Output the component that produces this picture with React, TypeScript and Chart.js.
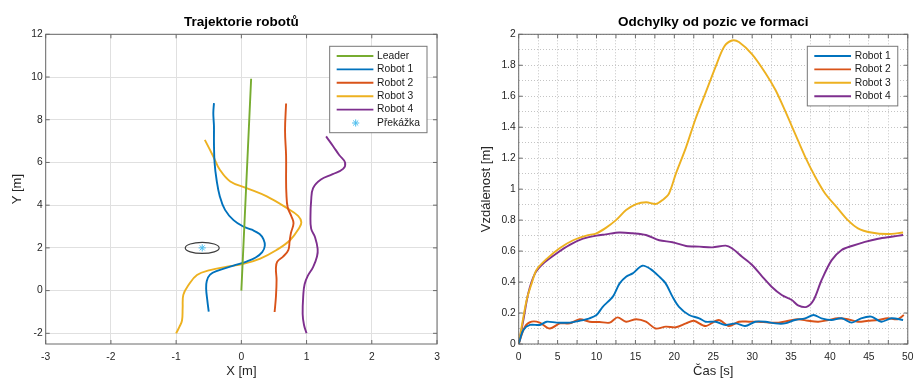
import React, { useEffect, useRef } from "react";
import { Chart, registerables } from "chart.js";

Chart.register(...registerables);

const FONT = "'Liberation Sans', Arial, Helvetica, sans-serif";
Chart.defaults.font.family = FONT;

// ---------- Left chart: trajectories ----------
const TRAJ_X_TICKS = [-3, -2, -1, 0, 1, 2, 3];
const TRAJ_Y_TICKS = [-2, 0, 2, 4, 6, 8, 10, 12];

const LEADER_X = [0, 0.05, 0.1, 0.15];
const LEADER_Y = [0, 3.3, 6.6, 9.92];

const R1_X = [-0.5, -0.52, -0.54, -0.53, -0.48, -0.36, -0.12, 0.08, 0.22, 0.32, 0.36, 0.34, 0.28, 0.16, 0.03, -0.12, -0.25, -0.33, -0.38, -0.41, -0.42, -0.42, -0.43, -0.42];
const R1_Y = [-0.98, -0.5, 0.1, 0.45, 0.75, 0.94, 1.17, 1.36, 1.55, 1.8, 2.1, 2.4, 2.65, 2.85, 3.0, 3.3, 3.78, 4.41, 5.19, 5.97, 6.91, 7.69, 8.3, 8.78];

const R2_X = [0.51, 0.53, 0.54, 0.53, 0.55, 0.64, 0.72, 0.74, 0.76, 0.8, 0.77, 0.71, 0.69, 0.686, 0.686, 0.67, 0.686];
const R2_Y = [-1.0, -0.3, 0.5, 1.04, 1.35, 1.59, 1.9, 2.3, 2.69, 3.15, 3.46, 3.9, 4.6, 5.2, 6.3, 7.5, 8.76];

const R3_X = [-1.0, -0.95, -0.91, -0.9, -0.89, -0.81, -0.68, -0.48, -0.22, 0.03, 0.29, 0.54, 0.75, 0.88, 0.92, 0.87, 0.7, 0.39, 0.08, -0.17, -0.33, -0.43, -0.56];
const R3_Y = [-2.0, -1.7, -1.4, -0.8, -0.2, 0.26, 0.73, 0.96, 1.12, 1.25, 1.5, 1.9, 2.37, 2.9, 3.2, 3.5, 3.86, 4.41, 4.8, 5.11, 5.66, 6.28, 7.06];

const R4_X = [1.0, 0.96, 0.94, 0.95, 0.97, 1.02, 1.1, 1.16, 1.17, 1.13, 1.07, 1.06, 1.07, 1.1, 1.22, 1.4, 1.56, 1.59, 1.5, 1.41, 1.3];
const R4_Y = [-2.0, -1.6, -1.1, -0.2, 0.3, 0.7, 1.1, 1.6, 1.95, 2.5, 2.9, 3.5, 4.2, 4.8, 5.2, 5.45, 5.7, 6.0, 6.35, 6.75, 7.22];

const OBSTACLE_X = [-0.6];
const OBSTACLE_Y = [2.0];
const OBSTACLE_R = [0.26];

// ---------- Right chart: deviations ----------
const DEV_X_MAJOR = [0, 5, 10, 15, 20, 25, 30, 35, 40, 45, 50];
const DEV_X_MINOR = [2.5, 7.5, 12.5, 17.5, 22.5, 27.5, 32.5, 37.5, 42.5, 47.5];
const DEV_Y_MAJOR = [0, 0.2, 0.4, 0.6, 0.8, 1, 1.2, 1.4, 1.6, 1.8, 2];
const DEV_Y_LABELS = ["0", "0.2", "0.4", "0.6", "0.8", "1", "1.2", "1.4", "1.6", "1.8", "2"];
const DEV_Y_MINOR = [0.1, 0.3, 0.5, 0.7, 0.9, 1.1, 1.3, 1.5, 1.7, 1.9];

const D1_T = [0, 0.6, 1.45, 2.7, 3.6, 4.86, 6.56, 7.84, 9.1, 10, 10.8, 12.1, 12.95, 13.8, 14.65, 15.9, 17, 18.06, 18.9, 19.76, 20.6, 21.9, 23.2, 24, 25.3, 26.6, 27.9, 29.1, 30.4, 31.7, 33, 34.2, 35.5, 36.8, 37.9, 38.9, 40.2, 41.5, 42.8, 44, 45.3, 46.6, 47.9, 49.4];
const D1_V = [0, 0.09, 0.123, 0.123, 0.144, 0.138, 0.138, 0.15, 0.166, 0.187, 0.24, 0.306, 0.39, 0.435, 0.456, 0.506, 0.482, 0.435, 0.39, 0.306, 0.24, 0.187, 0.166, 0.144, 0.144, 0.123, 0.133, 0.116, 0.144, 0.144, 0.133, 0.133, 0.155, 0.166, 0.187, 0.166, 0.155, 0.166, 0.138, 0.166, 0.177, 0.144, 0.166, 0.155];

const D2_T = [0, 0.8, 1.66, 2.7, 4, 5.3, 6.56, 7.84, 9.1, 10.4, 11.7, 12.7, 13.8, 15.1, 16.35, 17.6, 18.9, 20.2, 21.5, 22.5, 24, 25.7, 27, 28.3, 29.6, 30.8, 32.1, 33.4, 34.7, 35.9, 37.2, 38.5, 39.8, 41, 42.3, 43.6, 44.9, 46.2, 47.4, 48.7, 49.5];
const D2_V = [0, 0.112, 0.144, 0.138, 0.1, 0.133, 0.133, 0.16, 0.144, 0.142, 0.138, 0.172, 0.144, 0.16, 0.144, 0.1, 0.112, 0.108, 0.133, 0.15, 0.116, 0.155, 0.116, 0.144, 0.144, 0.144, 0.138, 0.138, 0.15, 0.16, 0.15, 0.144, 0.155, 0.166, 0.16, 0.144, 0.15, 0.155, 0.166, 0.16, 0.187];

const D3_T = [0, 1.0, 1.66, 2.3, 3.6, 5.3, 7.0, 8.7, 10, 11.2, 12.5, 13.8, 15.1, 16.4, 17.6, 18.5, 19.3, 20.2, 21.5, 22.7, 24, 25.3, 26.4, 27.4, 28.3, 30, 31.7, 33, 34.2, 35.5, 36.8, 38.1, 39.4, 41, 42.3, 43.6, 45.3, 47.4, 49.4];
const D3_V = [0, 0.28, 0.39, 0.48, 0.55, 0.62, 0.67, 0.7, 0.715, 0.75, 0.8, 0.865, 0.904, 0.915, 0.904, 0.93, 0.97, 1.1, 1.27, 1.45, 1.62, 1.79, 1.92, 1.96, 1.95, 1.87, 1.75, 1.64, 1.51, 1.36, 1.21, 1.08, 0.97, 0.876, 0.8, 0.747, 0.72, 0.71, 0.72];

const D4_T = [0, 0.6, 1.24, 2.1, 3.15, 4.86, 6.56, 8.26, 10, 11.2, 12.9, 14.65, 16.35, 18.06, 19.76, 21.5, 23.2, 24.9, 26.6, 27.4, 28.7, 30, 31.3, 32.5, 33.8, 35.1, 35.9, 37, 37.9, 38.9, 40.2, 41.5, 42.8, 44.5, 46.2, 47.9, 49.4];
const D4_V = [0, 0.155, 0.33, 0.456, 0.52, 0.585, 0.64, 0.68, 0.7, 0.708, 0.72, 0.715, 0.704, 0.67, 0.657, 0.633, 0.629, 0.624, 0.635, 0.618, 0.564, 0.51, 0.435, 0.37, 0.316, 0.284, 0.25, 0.24, 0.284, 0.41, 0.54, 0.607, 0.633, 0.66, 0.68, 0.693, 0.704];

const C_BLUE = "#0072BD";
const C_ORANGE = "#D95319";
const C_YELLOW = "#EDB120";
const C_PURPLE = "#7E2F8E";
const C_GREEN = "#77AC30";
const C_CYAN = "#4DBEEE";

const TEXT = "#262626";
const BOX = "#6a6a6a";
const LINE_W = 1.9;

function pts(xs: number[], ys: number[]) {
  return xs.map((x, i) => ({ x, y: ys[i] }));
}

function drawStar(ctx: CanvasRenderingContext2D, cx: number, cy: number, r: number, color: string) {
  ctx.save();
  ctx.strokeStyle = color;
  ctx.lineWidth = 1;
  ctx.beginPath();
  ctx.moveTo(cx - r, cy); ctx.lineTo(cx + r, cy);
  ctx.moveTo(cx, cy - r); ctx.lineTo(cx, cy + r);
  const d = r * 0.7071;
  ctx.moveTo(cx - d, cy - d); ctx.lineTo(cx + d, cy + d);
  ctx.moveTo(cx - d, cy + d); ctx.lineTo(cx + d, cy - d);
  ctx.stroke();
  ctx.restore();
}

type LegendItem = { label: string; color: string; kind: "line" | "star" };

function makeMatlabPlugin(cfg: {
  xTicks: number[];
  yTicks: number[];
  legend: LegendItem[];
  obstacles?: { x: number; y: number; r: number }[];
}) {
  return {
    id: "matlab",
    beforeDatasetsDraw(chart: any) {
      if (!cfg.obstacles) return;
      const { ctx, scales } = chart;
      const x = scales.x, y = scales.y;
      ctx.save();
      cfg.obstacles.forEach((o) => {
        const cx = x.getPixelForValue(o.x);
        const cy = y.getPixelForValue(o.y);
        const rx = Math.abs(x.getPixelForValue(o.x + o.r) - cx);
        const ry = Math.abs(y.getPixelForValue(o.y + o.r) - cy);
        ctx.beginPath();
        ctx.ellipse(cx, cy, rx, ry, 0, 0, Math.PI * 2);
        ctx.strokeStyle = "#3c3c3c";
        ctx.lineWidth = 1.2;
        ctx.stroke();
      });
      ctx.restore();
    },
    afterDatasetsDraw(chart: any) {
      const { ctx, chartArea: a, scales } = chart;
      const x = scales.x, y = scales.y;
      ctx.save();
      // axes box
      ctx.strokeStyle = BOX;
      ctx.lineWidth = 1;
      ctx.strokeRect(a.left, a.top, a.right - a.left, a.bottom - a.top);
      const len = 4;
      ctx.beginPath();
      cfg.xTicks.forEach((v) => {
        const p = x.getPixelForValue(v);
        ctx.moveTo(p, a.bottom); ctx.lineTo(p, a.bottom - len);
        ctx.moveTo(p, a.top); ctx.lineTo(p, a.top + len);
      });
      cfg.yTicks.forEach((v) => {
        const p = y.getPixelForValue(v);
        ctx.moveTo(a.left, p); ctx.lineTo(a.left + len, p);
        ctx.moveTo(a.right, p); ctx.lineTo(a.right - len, p);
      });
      ctx.stroke();

      // legend
      const fs = 10.3;
      ctx.font = `${fs}px ${FONT}`;
      const items = cfg.legend;
      const textW = Math.max(...items.map((it) => ctx.measureText(it.label).width));
      const textOff = 47.4;
      const w = textOff + textW + 7;
      const padTop = 9.7;
      const rowH = 13.4;
      const h = padTop * 2 + (items.length - 1) * rowH;
      const bx = a.right - 10 - w;
      const by = a.top + 12;
      ctx.fillStyle = "#ffffff";
      ctx.fillRect(bx, by, w, h);
      ctx.strokeStyle = "#777777";
      ctx.lineWidth = 1;
      ctx.strokeRect(bx, by, w, h);
      items.forEach((it, i) => {
        const cy = by + padTop + i * rowH;
        if (it.kind === "line") {
          ctx.strokeStyle = it.color;
          ctx.lineWidth = LINE_W;
          ctx.beginPath();
          ctx.moveTo(bx + 7, cy);
          ctx.lineTo(bx + 43.7, cy);
          ctx.stroke();
        } else {
          drawStar(ctx, bx + 26, cy, 3.6, it.color);
        }
        ctx.fillStyle = "#1a1a1a";
        ctx.textAlign = "left";
        ctx.textBaseline = "middle";
        ctx.fillText(it.label, bx + textOff, cy);
      });
      ctx.restore();
    },
  };
}

function setTicks(values: number[]) {
  return (scale: any) => {
    scale.ticks = values.map((v) => ({ value: v }));
  };
}

function lineDs(label: string, data: any[], color: string, tension: number) {
  return {
    label,
    data,
    showLine: true,
    borderColor: color,
    backgroundColor: color,
    borderWidth: LINE_W,
    pointRadius: 0,
    tension,
    fill: false,
  };
}

function trajConfig(): any {
  const obstacles = OBSTACLE_X.map((ox, i) => ({ x: ox, y: OBSTACLE_Y[i], r: OBSTACLE_R[i] }));
  return {
    type: "scatter",
    data: {
      datasets: [
        lineDs("Leader", pts(LEADER_X, LEADER_Y), C_GREEN, 0),
        lineDs("Robot 1", pts(R1_X, R1_Y), C_BLUE, 0.4),
        lineDs("Robot 2", pts(R2_X, R2_Y), C_ORANGE, 0.4),
        lineDs("Robot 3", pts(R3_X, R3_Y), C_YELLOW, 0.4),
        lineDs("Robot 4", pts(R4_X, R4_Y), C_PURPLE, 0.4),
        {
          label: "Překážka",
          data: pts(OBSTACLE_X, OBSTACLE_Y),
          showLine: false,
          pointStyle: "star",
          pointRadius: 3.6,
          borderWidth: 1,
          borderColor: C_CYAN,
          backgroundColor: C_CYAN,
        },
      ],
    },
    options: {
      responsive: false,
      maintainAspectRatio: false,
      animation: false,
      devicePixelRatio: 1,
      layout: { padding: { left: 0, right: 23, top: 0, bottom: 0 } },
      plugins: {
        legend: { display: false },
        tooltip: { enabled: false },
        title: {
          display: true,
          text: "Trajektorie robotů",
          fullSize: false,
          color: "#000000",
          font: { family: FONT, size: 13.5, weight: "bold", lineHeight: 1.2 },
          padding: { top: 13.7, bottom: 4.4 },
        },
      },
      scales: {
        x: {
          type: "linear",
          min: -3,
          max: 3,
          afterBuildTicks: setTicks(TRAJ_X_TICKS),
          afterFit: (s: any) => { s.height = 34; },
          grid: { color: "#e0e0e0", lineWidth: 1, drawTicks: false },
          border: { display: false },
          ticks: { autoSkip: false, maxRotation: 0, color: TEXT, padding: 6.5, font: { size: 10.3 }, callback: (v: any) => String(v) },
          title: { display: true, text: "X [m]", color: TEXT, font: { size: 13, lineHeight: 1 }, padding: { top: 0, bottom: 0 } },
        },
        y: {
          type: "linear",
          min: -2.5,
          max: 12,
          afterBuildTicks: setTicks(TRAJ_Y_TICKS),
          afterFit: (s: any) => { s.width = 45.7; },
          grid: { color: "#e0e0e0", lineWidth: 1, drawTicks: false },
          border: { display: false },
          ticks: { autoSkip: false, color: TEXT, padding: 3, font: { size: 10.3 }, callback: (v: any) => String(v) },
          title: { display: true, text: "Y [m]", color: TEXT, font: { size: 13, lineHeight: 1 }, padding: { top: 11, bottom: 0 } },
        },
      },
    },
    plugins: [
      makeMatlabPlugin({
        xTicks: TRAJ_X_TICKS,
        yTicks: TRAJ_Y_TICKS,
        obstacles,
        legend: [
          { label: "Leader", color: C_GREEN, kind: "line" },
          { label: "Robot 1", color: C_BLUE, kind: "line" },
          { label: "Robot 2", color: C_ORANGE, kind: "line" },
          { label: "Robot 3", color: C_YELLOW, kind: "line" },
          { label: "Robot 4", color: C_PURPLE, kind: "line" },
          { label: "Překážka", color: C_CYAN, kind: "star" },
        ],
      }),
    ],
  };
}

function devConfig(): any {
  const xAll = [...DEV_X_MAJOR, ...DEV_X_MINOR].sort((a, b) => a - b);
  const yAll = [...DEV_Y_MAJOR, ...DEV_Y_MINOR].sort((a, b) => a - b);
  const xLabel = (v: number) => {
    const i = DEV_X_MAJOR.findIndex((m) => Math.abs(m - v) < 1e-6);
    return i >= 0 ? String(DEV_X_MAJOR[i]) : "";
  };
  const yLabel = (v: number) => {
    const i = DEV_Y_MAJOR.findIndex((m) => Math.abs(m - v) < 1e-6);
    return i >= 0 ? DEV_Y_LABELS[i] : "";
  };
  return {
    type: "scatter",
    data: {
      datasets: [
        lineDs("Robot 1", pts(D1_T, D1_V), C_BLUE, 0.3),
        lineDs("Robot 2", pts(D2_T, D2_V), C_ORANGE, 0.3),
        lineDs("Robot 3", pts(D3_T, D3_V), C_YELLOW, 0.3),
        lineDs("Robot 4", pts(D4_T, D4_V), C_PURPLE, 0.3),
      ],
    },
    options: {
      responsive: false,
      maintainAspectRatio: false,
      animation: false,
      devicePixelRatio: 1,
      layout: { padding: { left: 0, right: 10, top: 0, bottom: 0 } },
      plugins: {
        legend: { display: false },
        tooltip: { enabled: false },
        title: {
          display: true,
          text: "Odchylky od pozic ve formaci",
          fullSize: false,
          color: "#000000",
          font: { family: FONT, size: 13.5, weight: "bold", lineHeight: 1.2 },
          padding: { top: 13.7, bottom: 4.4 },
        },
      },
      scales: {
        x: {
          type: "linear",
          min: 0,
          max: 50,
          afterBuildTicks: setTicks(xAll),
          afterFit: (s: any) => { s.height = 34; },
          grid: { color: "#c4c4c4", lineWidth: 1, drawTicks: false },
          border: { display: false, dash: [1, 2] },
          ticks: { autoSkip: false, maxRotation: 0, color: TEXT, padding: 6.5, font: { size: 10.3 }, callback: (v: any) => xLabel(v) },
          title: { display: true, text: "Čas [s]", color: TEXT, font: { size: 13, lineHeight: 1 }, padding: { top: 0, bottom: 0 } },
        },
        y: {
          type: "linear",
          min: 0,
          max: 2,
          afterBuildTicks: setTicks(yAll),
          afterFit: (s: any) => { s.width = 58.7; },
          grid: { color: "#c4c4c4", lineWidth: 1, drawTicks: false },
          border: { display: false, dash: [1, 2] },
          ticks: { autoSkip: false, color: TEXT, padding: 3, font: { size: 10.3 }, callback: (v: any) => yLabel(v) },
          title: { display: true, text: "Vzdálenost [m]", color: TEXT, font: { size: 13, lineHeight: 1 }, padding: { top: 20.2, bottom: 0 } },
        },
      },
    },
    plugins: [
      makeMatlabPlugin({
        xTicks: xAll,
        yTicks: DEV_Y_MAJOR,
        legend: [
          { label: "Robot 1", color: C_BLUE, kind: "line" },
          { label: "Robot 2", color: C_ORANGE, kind: "line" },
          { label: "Robot 3", color: C_YELLOW, kind: "line" },
          { label: "Robot 4", color: C_PURPLE, kind: "line" },
        ],
      }),
    ],
  };
}

export default function App() {
  const leftRef = useRef<HTMLCanvasElement | null>(null);
  const rightRef = useRef<HTMLCanvasElement | null>(null);

  useEffect(() => {
    document.body.style.margin = "0";
    const c1 = new Chart(leftRef.current as HTMLCanvasElement, trajConfig());
    const c2 = new Chart(rightRef.current as HTMLCanvasElement, devConfig());
    return () => {
      c1.destroy();
      c2.destroy();
    };
  }, []);

  return (
    <div style={{ position: "fixed", left: 0, top: 0, width: 915, height: 378, overflow: "hidden", background: "#ffffff" }}>
      <canvas ref={leftRef} width={460} height={378} style={{ position: "absolute", left: 0, top: 0, width: 460, height: 378 }} />
      <canvas ref={rightRef} width={460} height={378} style={{ position: "absolute", left: 460, top: 0, width: 460, height: 378 }} />
    </div>
  );
}
